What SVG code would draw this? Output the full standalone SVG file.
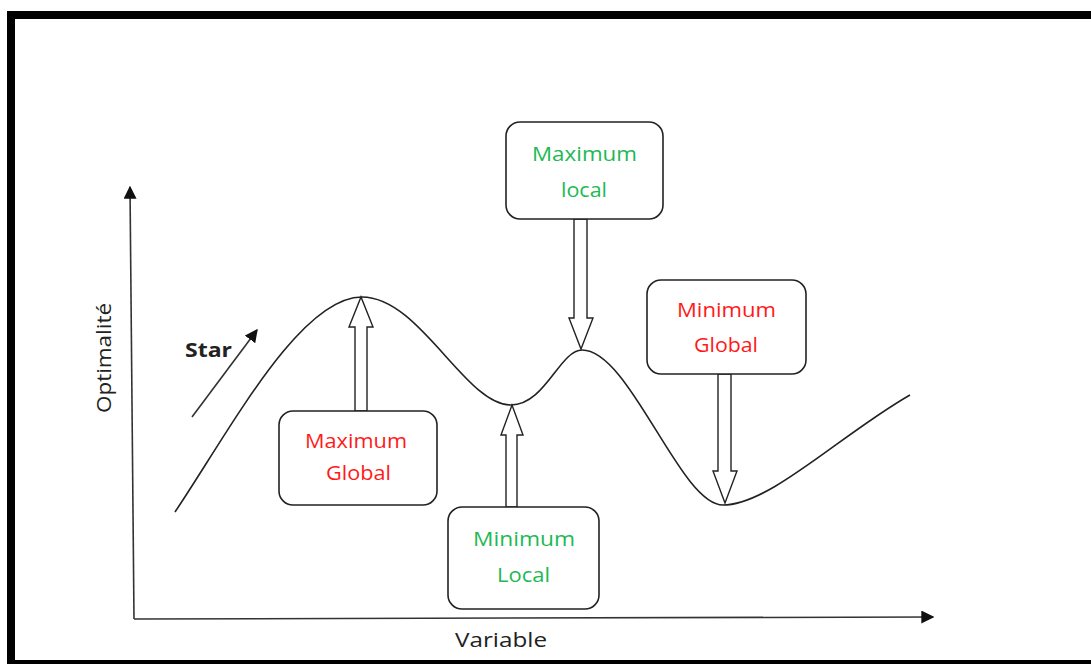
<svg xmlns="http://www.w3.org/2000/svg" width="1091" height="664" viewBox="0 0 1091 664">
  <defs>
    <marker id="tri" viewBox="0 0 10 10" refX="9" refY="5" markerWidth="13" markerHeight="13" markerUnits="userSpaceOnUse" orient="auto">
      <path d="M0,0 L10,5 L0,10 Z" fill="#111"/>
    </marker>
    <style>
      .frame { fill: none; stroke: #000; stroke-width: 8; }
      .axis { fill: none; stroke: #333; stroke-width: 1.6; marker-end: url(#tri); }
      .curve { fill: none; stroke: #222; stroke-width: 1.6; }
      .box { fill: #fff; stroke: #222; stroke-width: 1.6; }
      .block { fill: #fff; stroke: #222; stroke-width: 1.4; stroke-linejoin: miter; }
      .lbl { font-family: "Open Sans", "Liberation Sans", sans-serif; font-size: 20px; }
      .red { fill: #ff1a1a; }
      .green { fill: #1db954; }
      .dark { fill: #222; }
    </style>
  </defs>

  <rect width="1091" height="664" fill="#fff"/>
  <!-- outer frame -->
  <rect class="frame" x="11" y="15" width="1090" height="649"/>

  <!-- axes and connectors -->
  <g id="connectors">
    <line class="axis" x1="134" y1="619" x2="130" y2="187"/>
    <line class="axis" x1="134" y1="619" x2="933" y2="617"/>
    <path class="curve" d="M175,512 C230,430 300,297 362,297 C420,297 465,405 511,405 C545,405 560,350 582,350 C630,350 680,505 723,505 C770,505 840,435 910,395"/>
    <line class="axis" x1="192" y1="417" x2="257" y2="330"/>
    <!-- hollow block arrows -->
    <polygon class="block" points="355,411 355,327 349,327 361,297 373,327 367,327 367,411"/>
    <polygon class="block" points="574,219 574,318 569,318 581,349 593,318 587,318 587,219"/>
    <polygon class="block" points="506,507 506,435 501,435 512,405 523,435 517,435 517,507"/>
    <polygon class="block" points="718,374 718,471 713,471 725,503 737,471 731,471 731,374"/>
  </g>

  <!-- axis labels -->
  <g id="axis-labels">
    <text class="lbl dark" x="455" y="647" font-size="21" textLength="92" lengthAdjust="spacingAndGlyphs">Variable</text>
    <text class="lbl dark" transform="translate(111,413) rotate(-90)" x="0" y="0" textLength="110" lengthAdjust="spacingAndGlyphs">Optimalité</text>
    <text class="lbl dark" x="185" y="357" font-weight="bold" textLength="47" lengthAdjust="spacingAndGlyphs">Star</text>
  </g>

  <g id="max-global">
    <rect class="box" x="279" y="411" width="158" height="94" rx="14"/>
    <text class="lbl red" x="305" y="448" textLength="102" lengthAdjust="spacingAndGlyphs">Maximum</text>
    <text class="lbl red" x="326" y="480" textLength="65" lengthAdjust="spacingAndGlyphs">Global</text>
  </g>

  <g id="max-local">
    <rect class="box" x="506" y="122" width="157" height="97" rx="14"/>
    <text class="lbl green" x="532" y="161" textLength="105" lengthAdjust="spacingAndGlyphs">Maximum</text>
    <text class="lbl green" x="561" y="197" textLength="46" lengthAdjust="spacingAndGlyphs">local</text>
  </g>

  <g id="min-local">
    <rect class="box" x="448" y="507" width="151" height="102" rx="14"/>
    <text class="lbl green" x="473" y="546" textLength="102" lengthAdjust="spacingAndGlyphs">Minimum</text>
    <text class="lbl green" x="497" y="582" textLength="53" lengthAdjust="spacingAndGlyphs">Local</text>
  </g>

  <g id="min-global">
    <rect class="box" x="647" y="280" width="159" height="94" rx="14"/>
    <text class="lbl red" x="677" y="317" textLength="99" lengthAdjust="spacingAndGlyphs">Minimum</text>
    <text class="lbl red" x="694" y="352" textLength="64" lengthAdjust="spacingAndGlyphs">Global</text>
  </g>
</svg>
